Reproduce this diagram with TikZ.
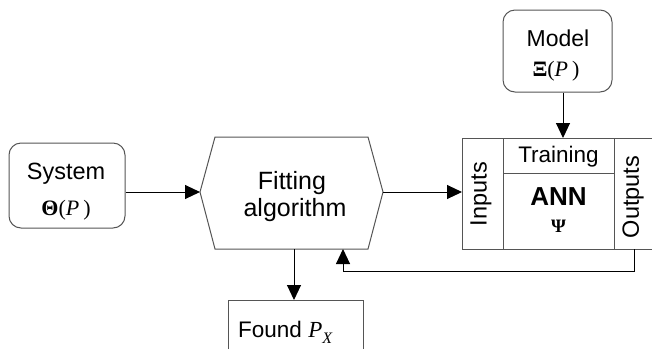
\documentclass[tikz,border=0pt]{standalone}
\usepackage{fontspec}
\setmainfont{Liberation Sans}
\newfontfamily\serifgr{Liberation Serif}
\usetikzlibrary{arrows.meta}
\definecolor{boxgray}{HTML}{555555}
\newcommand{\fs}[1]{\fontsize{#1}{#1}\selectfont}
\begin{document}
\begin{tikzpicture}[x=1pt,y=-1pt,
  box/.style={draw=boxgray, line width=1pt},
  rbox/.style={box, rounded corners=12pt},
  arr/.style={-{Triangle[length=15pt,width=14pt]}, line width=1pt, black},
  txt/.style={inner sep=0pt, font=\fs{23}},
  mth/.style={font=\serifgr\fs{22}, inner sep=0pt}]
\useasboundingbox (0,0) rectangle (652,349);

% System
\node[rbox, minimum width=116pt, minimum height=85pt] (sys) at (67,185.5) {};
\node[txt, font=\fs{23.5}, anchor=base] (sysA) at (66,179) {System};
\node[mth, anchor=base] (sysB) at (66,215) {\textbf{Θ}(\textit{P}\hspace{4pt})};

% Model
\node[rbox, minimum width=109pt, minimum height=82pt] (model) at (557.5,51) {};
\node[txt, anchor=base] (modA) at (558,46) {Model};
\node[mth, anchor=base] (modB) at (556,76) {\textbf{Ξ}(\textit{P}\hspace{4pt})};

% Fitting algorithm hexagon
\coordinate (hexL) at (200,192);
\coordinate (hexR) at (383,192);
\coordinate (hexB) at (294,249);
\coordinate (hexFB) at (343,249);
\draw[box] (hexL) -- (215,137) -- (368,137) -- (hexR) -- (368,249) -- (215,249) -- cycle;
\node[txt, font=\fs{25}, anchor=base] (fitA) at (292,189) {Fitting};
\node[txt, font=\fs{25}, anchor=base] (fitB) at (295,216) {algorithm};

% ANN block
\node[box, anchor=north west, minimum width=41pt, minimum height=111pt] (inp) at (462,138) {};
\node[box, anchor=north west, minimum width=111pt, minimum height=35pt] (train) at (503,138) {};
\node[box, anchor=north west, minimum width=111pt, minimum height=76pt] (ann) at (503,173) {};
\node[anchor=north west, minimum width=40pt, minimum height=111pt, inner sep=0pt] (outp) at (614,138) {};
\draw[box] (outp.north east) -- (outp.north west) -- (outp.south west) -- (outp.south east);
\node[txt, font=\fs{23.5}, rotate=90] (inpT) at (481,194) {Inputs};
\node[txt, font=\fs{23.5}, rotate=90] (outT) at (633,197) {Outputs};
\node[txt, font=\fs{22.5}, anchor=base] (trainT) at (558.5,162) {Training};
\node[txt, font=\fs{26}\bfseries, anchor=base] (annT) at (558.5,205) {ANN};
\node[mth, font=\serifgr\fs{19}\bfseries] (psi) at (558.5,226) {Ψ};

% Found
\draw[box] (228,349) -- (228,300) -- (363,300) -- (363,349);
\coordinate (foundTop) at (294,300);
\node[txt, font=\fs{22.5}, anchor=base west] (foundT) at (238,337) {Found {\serifgr\fs{23}\textit{P}\raisebox{-6pt}{\fs{16}\textit{X}}}};

% connectors
\draw[arr] (sys.east |- hexL) -- (hexL);
\draw[arr] (hexR) -- (hexR -| inp.west);
\draw[arr] ([xshift=5.5pt]model.south) -- ([xshift=5.5pt]model.south |- train.north);
\draw[arr] (hexB) -- (foundTop);
\draw[arr] (outp.south) -- ++(0,22) -| (hexFB);
\end{tikzpicture}
\end{document}
